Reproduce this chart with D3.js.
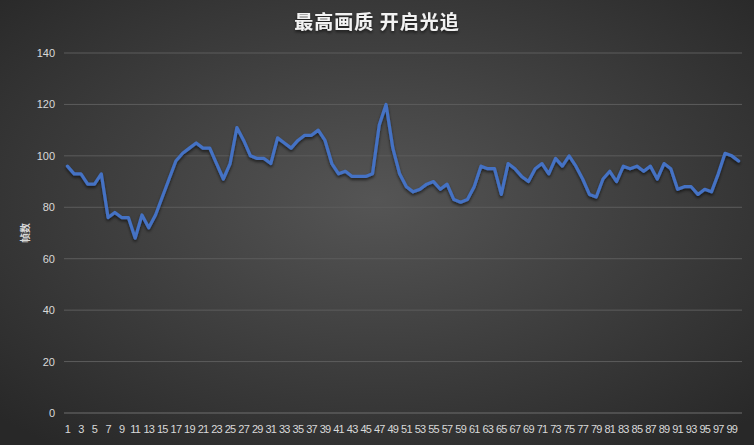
<!DOCTYPE html>
<html><head><meta charset="utf-8">
<script src="https://cdn.jsdelivr.net/npm/d3@7"></script>
<style>html,body{margin:0;padding:0;background:#333;overflow:hidden}</style>
</head><body>
<svg id="c" width="754" height="445"></svg>
<script>
const title = "最高画质 开启光追";
const yLabel = "帧数";
const frames = [96,93,93,89,89,93,76,78,76,76,68,77,72,77,84,91,98,101,103,105,
103,103,97,91,97,111,106,100,99,99,97,107,105,103,106,108,108,110,106,97,
93,94,92,92,92,93,112,120,103,93,88,86,87,89,90,87,89,83,82,83,
88,96,95,95,85,97,95,92,90,95,97,93,99,96,100,96,91,85,84,91,
94,90,96,95,96,94,96,91,97,95,87,88,88,85,87,86,93,101,100,98];
const categories = frames.map((d,i)=>i+1);
const yTicks = [0,20,40,60,80,100,120,140];

const W=754,H=445;
const m={left:64,right:12,top:53,bottom:32};
const svg=d3.select("#c");
const defs=svg.append("defs");
const rg=defs.append("radialGradient").attr("id","bg").attr("cx","50%").attr("cy","45%").attr("r","70%");
rg.append("stop").attr("offset","0%").attr("stop-color","#555555");
rg.append("stop").attr("offset","100%").attr("stop-color","#282828");
svg.append("rect").attr("width",W).attr("height",H).attr("fill","url(#bg)");

const f=defs.append("filter").attr("id","glow").attr("x","-10%").attr("y","-10%").attr("width","120%").attr("height","120%");
f.append("feGaussianBlur").attr("in","SourceAlpha").attr("stdDeviation","1.5").attr("result","b");
f.append("feOffset").attr("in","b").attr("dx","0").attr("dy","1.5").attr("result","o");
f.append("feFlood").attr("flood-color","#000").attr("flood-opacity","0.6");
f.append("feComposite").attr("in2","o").attr("operator","in").attr("result","s");
const fm=f.append("feMerge");fm.append("feMergeNode").attr("in","s");fm.append("feMergeNode").attr("in","SourceGraphic");

const x=d3.scaleBand().domain(categories).range([m.left,W-m.right]);
const y=d3.scaleLinear().domain([0,140]).range([H-m.bottom,m.top]);

const g=svg.append("g");
g.selectAll("line.grid").data(yTicks).join("line")
 .attr("x1",m.left).attr("x2",W-m.right)
 .attr("y1",d=>y(d)).attr("y2",d=>y(d))
 .attr("stroke",d=>d===0?"#6e6e6e":"#5c5c5c").attr("stroke-width",1);

const yAxis=d3.axisLeft(y).tickValues(yTicks).tickSize(0).tickPadding(9);
svg.append("g").attr("transform",`translate(${m.left},0)`).call(yAxis)
 .call(s=>s.select(".domain").remove())
 .call(s=>s.selectAll("text").attr("fill","#d9d9d9").style("font-family","'Liberation Sans',Arial,sans-serif").style("font-size","11px"));

const xAxis=d3.axisBottom(x).tickValues(categories.filter(d=>d%2===1)).tickSize(0).tickPadding(12);
svg.append("g").attr("transform",`translate(0,${H-m.bottom})`).call(xAxis)
 .call(s=>s.select(".domain").remove())
 .call(s=>s.selectAll("text").attr("fill","#d9d9d9").style("font-family","'Liberation Sans',Arial,sans-serif").style("font-size","11px").style("letter-spacing","-0.8px"));

const line=d3.line().x((d,i)=>x(categories[i])+x.bandwidth()/2).y(d=>y(d));
svg.append("path").datum(frames).attr("d",line).attr("fill","none")
 .attr("stroke","#4472C4").attr("stroke-width",3.2).attr("stroke-linejoin","round").attr("stroke-linecap","round")
 .attr("filter","url(#glow)");

svg.append("text").attr("x",W/2).attr("y",29).attr("text-anchor","middle")
 .attr("fill","#f2f2f2").style("font-family","'Noto Sans CJK SC',sans-serif").style("font-weight","bold").style("font-size","19px")
 .style("letter-spacing","1px").attr("filter","url(#glow)").text(title);

svg.append("text").attr("transform",`translate(29,${(y(60)+y(80))/2}) rotate(-90)`).attr("text-anchor","middle")
 .attr("fill","#d9d9d9").style("font-family","'Noto Sans CJK SC',sans-serif").style("font-weight","bold").style("font-size","10px").text(yLabel);
</script>
</body></html>
